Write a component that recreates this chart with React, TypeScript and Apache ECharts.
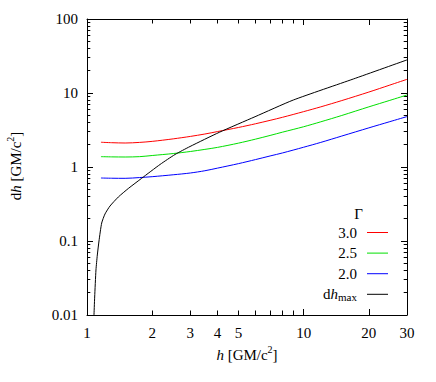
import React, { useEffect, useRef } from "react";
import * as echarts from "echarts";

const FONT = "Liberation Serif";

// Γ curves, sampled on a common h grid [GM/c^2]
const hGrid = [1.16, 1.3, 1.5, 1.75, 2, 2.5, 3, 3.5, 4, 5, 6, 7, 8, 10, 12, 15, 20, 25, 30];
const dhGamma30 = [2.16, 2.13, 2.11, 2.15, 2.22, 2.4, 2.59, 2.79, 3.01, 3.42, 3.84, 4.27, 4.7, 5.6, 6.5, 7.9, 10.3, 12.8, 15.3];
const dhGamma25 = [1.38, 1.37, 1.365, 1.38, 1.43, 1.52, 1.62, 1.73, 1.84, 2.1, 2.38, 2.67, 2.96, 3.5, 4.08, 4.97, 6.5, 7.95, 9.4];
const dhGamma20 = [0.71, 0.705, 0.703, 0.72, 0.74, 0.785, 0.83, 0.89, 0.965, 1.11, 1.26, 1.41, 1.55, 1.85, 2.15, 2.62, 3.38, 4.1, 4.8];

// dh_max curve
const hMax = [1.077, 1.085, 1.1, 1.116, 1.136, 1.169, 1.211, 1.277, 1.395, 1.551, 1.788, 2.173, 2.549, 2.989, 4.081, 5.966, 8.964, 16.96, 30];
const dhMax = [0.01, 0.0175, 0.0406, 0.0647, 0.1, 0.175, 0.232, 0.297, 0.393, 0.512, 0.704, 1.081, 1.476, 1.892, 2.944, 4.78, 8.04, 15.46, 28.0];

const legendNames = ["3.0", "2.5", "2.0", "dhmax"];
const seriesColors = ["#ff0000", "#00e000", "#0000ff", "#000000"];

// axis ticks & labels
const xLabelValues = [1, 2, 3, 4, 5, 10, 20, 30];
const xMajorTicks = [10, 20];
const xMinorTicks = [2, 3, 4, 5, 6, 7, 8, 9];
const yLabelValues = [0.01, 0.1, 1, 10, 100];
const yMinorTicks = [
  0.02, 0.03, 0.04, 0.05, 0.06, 0.07, 0.08, 0.09,
  0.2, 0.3, 0.4, 0.5, 0.6, 0.7, 0.8, 0.9,
  2, 3, 4, 5, 6, 7, 8, 9,
  20, 30, 40, 50, 60, 70, 80, 90,
];

const zip = (xs: number[], ys: number[]) => xs.map((x, i) => [x, ys[i]]);

const fmt = (v: number) => String(Number(Number(v).toPrecision(6)));

function xAxisDef(position: "bottom" | "top", major: boolean) {
  return {
    type: "log",
    logBase: 10,
    min: 1,
    max: 30,
    position,
    axisLine: { show: major, onZero: false, lineStyle: { color: "#000", width: 1 } },
    axisTick: {
      show: true,
      inside: true,
      length: major ? 6 : 4.5,
      customValues: major ? xMajorTicks : xMinorTicks,
      lineStyle: { color: "#000", width: 1 },
    },
    axisLabel: {
      show: major && position === "bottom",
      customValues: xLabelValues,
      margin: 10,
      color: "#000",
      fontFamily: FONT,
      fontSize: 15,
      formatter: fmt,
    },
    splitLine: { show: false },
  };
}

function yAxisDef(position: "left" | "right", major: boolean) {
  return {
    type: "log",
    logBase: 10,
    min: 0.01,
    max: 100,
    position,
    axisLine: { show: major, onZero: false, lineStyle: { color: "#000", width: 1 } },
    axisTick: {
      show: true,
      inside: true,
      length: major ? 6 : 3.3,
      customValues: major ? yLabelValues : yMinorTicks,
      lineStyle: { color: "#000", width: 1 },
    },
    axisLabel: {
      show: major && position === "left",
      customValues: yLabelValues,
      margin: 9,
      color: "#000",
      fontFamily: FONT,
      fontSize: 15,
      formatter: fmt,
    },
    splitLine: { show: false },
  };
}

const titleRich = {
  n: { fontFamily: FONT, fontSize: 15, color: "#000", lineHeight: 22 },
  i: { fontFamily: FONT, fontSize: 15, fontStyle: "italic", color: "#000", lineHeight: 22 },
  sup: { fontFamily: FONT, fontSize: 10, color: "#000", verticalAlign: "top", lineHeight: 10 },
};

export default function App() {
  const ref = useRef<HTMLDivElement>(null);
  useEffect(() => {
    if (!ref.current) return;
    const chart = echarts.init(ref.current, undefined, { renderer: "svg" });
    const curves = [dhGamma30, dhGamma25, dhGamma20];
    const series: any[] = curves.map((ys, i) => ({
      name: legendNames[i],
      type: "line",
      data: zip(hGrid, ys),
      symbol: "none",
      smooth: 0.3,
      lineStyle: { color: seriesColors[i], width: 1 },
      itemStyle: { color: seriesColors[i] },
      xAxisIndex: 0,
      yAxisIndex: 0,
    }));
    series.push({
      name: legendNames[3],
      type: "line",
      data: zip(hMax, dhMax),
      symbol: "none",
      smooth: 0.2,
      lineStyle: { color: seriesColors[3], width: 1 },
      itemStyle: { color: seriesColors[3] },
      xAxisIndex: 0,
      yAxisIndex: 0,
    });

    chart.setOption({
      animation: false,
      backgroundColor: "#ffffff",
      textStyle: { fontFamily: FONT },
      grid: { left: 87, right: 29, top: 19, bottom: 67, containLabel: false, outerBoundsMode: "none" },
      xAxis: [
        xAxisDef("bottom", true),
        xAxisDef("bottom", false),
        xAxisDef("top", true),
        xAxisDef("top", false),
      ],
      yAxis: [
        yAxisDef("left", true),
        yAxisDef("left", false),
        yAxisDef("right", true),
        yAxisDef("right", false),
      ],
      legend: {
        orient: "vertical",
        right: 48,
        top: 224.5,
        padding: 0,
        align: "right",
        icon: "rect",
        itemWidth: 21,
        itemHeight: 1,
        itemGap: 4.6,
        selectedMode: false,
        data: legendNames,
        formatter: (name: string) => (name === "dhmax" ? "{r|d}{i|h}{sub|max}" : name),
        textStyle: {
          fontFamily: FONT,
          fontSize: 15,
          color: "#000",
          lineHeight: 16,
          padding: [0, 5, 0, 0],
          rich: {
            r: { fontFamily: FONT, fontSize: 15, color: "#000", lineHeight: 16 },
            i: { fontFamily: FONT, fontSize: 15, fontStyle: "italic", color: "#000", lineHeight: 16 },
            sub: { fontFamily: FONT, fontSize: 11, color: "#000", verticalAlign: "bottom", lineHeight: 2 },
          },
        },
      },
      graphic: [
        {
          type: "text",
          x: 358.5,
          y: 214,
          style: { text: "Γ", fontFamily: FONT, fontSize: 15, fill: "#000", align: "center", verticalAlign: "middle" },
        },
        {
          type: "text",
          x: 247,
          y: 355,
          style: {
            text: "{i|h}{n| [GM/c}{sup|2}{n|]}",
            rich: titleRich,
            align: "center",
            verticalAlign: "middle",
          },
        },
        {
          type: "text",
          x: 16,
          y: 166,
          rotation: Math.PI / 2,
          style: {
            text: "{n|d}{i|h}{n| [GM/c}{sup|2}{n|]}",
            rich: titleRich,
            align: "center",
            verticalAlign: "middle",
          },
        },
      ],
      series,
    });
    return () => chart.dispose();
  }, []);
  return (
    <div
      ref={ref}
      style={{ position: "fixed", left: 0, top: 0, width: 436, height: 382, background: "#fff" }}
    />
  );
}
